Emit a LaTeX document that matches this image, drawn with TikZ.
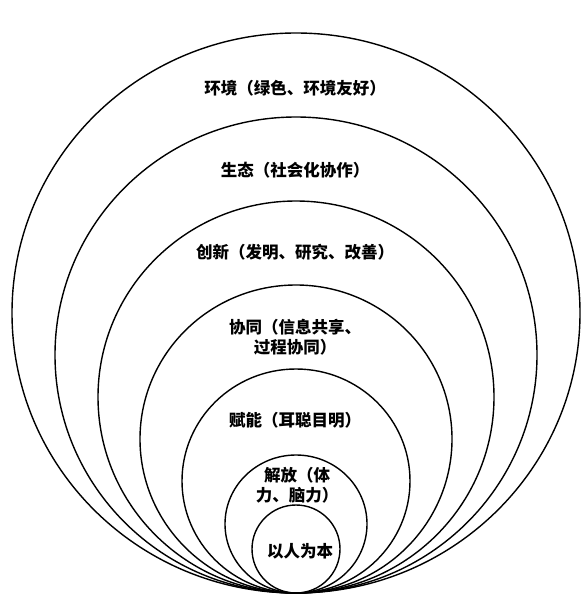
\documentclass[tikz,border=0pt]{standalone}
\usepackage{fontspec}
\setmainfont{Noto Sans CJK SC}
\usepackage{tikz}
\tikzstyle{ring}=[draw=black,line width=1.4pt]
\tikzstyle{every node}=[font=\fontsize{16.5}{20}\selectfont\bfseries,align=center,inner sep=0pt]

\begin{document}
\begin{tikzpicture}[x=1pt,y=-1pt]
	\useasboundingbox (0,0) rectangle (588,602);
	% rings, all touching at the bottom
	\draw[ring] (296,313) ellipse [x radius=284,y radius=280];
	\draw[ring] (296,355) ellipse [x radius=241,y radius=238];
	\draw[ring] (296,397) ellipse [x radius=198,y radius=196];
	\draw[ring] (296,439) ellipse [x radius=156,y radius=154];
	\draw[ring] (296,481) ellipse [x radius=114,y radius=112];
	\draw[ring] (296,524) ellipse [x radius=71,y radius=69];
	\draw[ring] (296,549) ellipse [x radius=44,y radius=44];
	% labels
	\node (huanjing) at (295,88) {环境（绿色、环境友好）};
	\node (shengtai) at (295,170) {生态（社会化协作）};
	\node (chuangxin) at (295,252) {创新（发明、研究、改善）};
	\node (xietong) at (295,337) {协同（信息共享、\\过程协同）};
	\node (funeng) at (295,420) {赋能（耳聪目明）};
	\node (jiefang) at (297,485) {解放（体\\力、脑力）};
	\node (yiren) at (300,551) {以人为本};
\end{tikzpicture}
\end{document}
